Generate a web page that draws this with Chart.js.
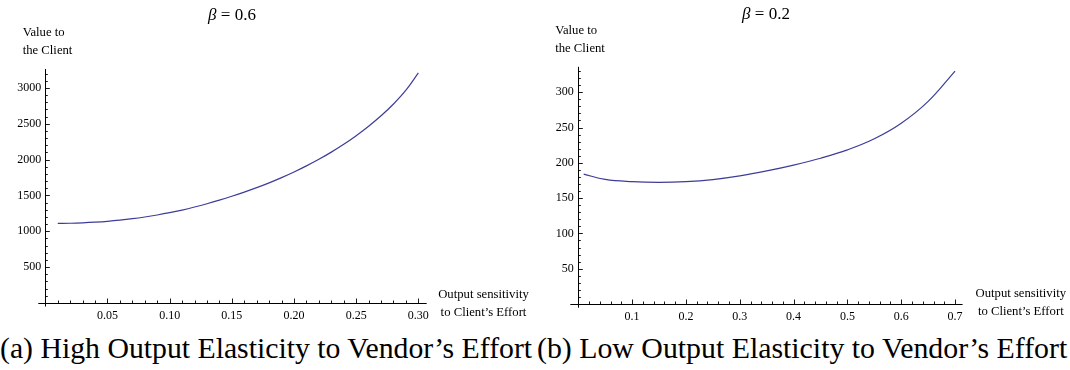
<!DOCTYPE html>
<html><head><meta charset="utf-8">
<script src="https://cdn.jsdelivr.net/npm/chart.js@4.4.1/dist/chart.umd.min.js"></script>
<style>
html,body{margin:0;padding:0;background:#fff;width:1070px;height:370px;overflow:hidden;position:relative;}
#c1{position:absolute;left:0;top:0;}
#c2{position:absolute;left:535px;top:0;}
.cap{position:absolute;top:333px;font-family:'Liberation Serif',serif;white-space:nowrap;color:#000;line-height:1;}
</style></head><body>
<canvas id="c1" width="535" height="330"></canvas>
<canvas id="c2" width="535" height="330"></canvas>
<div class="cap" id="capA">(a) High Output Elasticity to Vendor’s Effort</div>
<div class="cap" id="capB">(b) Low Output Elasticity to Vendor’s Effort</div>
<script>
// ---- data ----
const leftX = [0.01,0.02,0.03,0.04,0.05,0.06,0.07,0.08,0.09,0.10,0.11,0.12,0.13,0.14,0.15,0.16,0.17,0.18,0.19,0.20,0.21,0.22,0.23,0.24,0.25,0.26,0.27,0.28,0.29,0.30];
const leftY = [1110,1113,1119,1128,1140,1156,1176,1200,1228,1260,1297,1339,1385,1435,1489,1547,1609,1676,1749,1828,1913,2005,2105,2214,2334,2466,2612,2777,2970,3210];
const rightX = [0.01,0.05,0.10,0.15,0.20,0.25,0.30,0.35,0.40,0.45,0.50,0.55,0.60,0.65,0.70];
const rightY = [184,176.5,173.3,172.3,173.3,176.3,181.5,188.5,196.8,206.5,218.3,234,256,287,330];
const leftXTicks = [0.05,0.10,0.15,0.20,0.25,0.30];
const leftYTicks = [500,1000,1500,2000,2500,3000];
const rightXTicks = [0.1,0.2,0.3,0.4,0.5,0.6,0.7];
const rightYTicks = [50,100,150,200,250,300];
const titles = ['0.6','0.2'];
const yTitle = ['Value to','the Client'];
const xTitle = ['Output sensitivity','to Client\u2019s Effort'];

const LINE = '#3d3d99';
const TFONT = '"Liberation Serif", serif';

const mmaAxes = {
  id: 'mmaAxes',
  afterDraw(chart, args, o) {
    const ctx = chart.ctx, xs = chart.scales.x, ys = chart.scales.y;
    const x0 = xs.getPixelForValue(0), y0 = ys.getPixelForValue(0);
    ctx.save();
    ctx.strokeStyle = '#000';
    ctx.lineWidth = 1;
    ctx.beginPath();
    ctx.moveTo(x0 - o.xExt, Math.round(y0) + 0.5);
    ctx.lineTo(xs.right, Math.round(y0) + 0.5);
    ctx.moveTo(Math.round(x0) + 0.5, y0 + o.yExt);
    ctx.lineTo(Math.round(x0) + 0.5, ys.top);
    ctx.stroke();
    ctx.lineWidth = 0.9;
    ctx.beginPath();
    const nx = Math.floor(xs.max / o.xMinor + 1e-9);
    for (let i = 1; i <= nx; i++) {
      const v = i * o.xMinor;
      const r = v / o.xMajor;
      const major = Math.abs(r - Math.round(r)) < 1e-6;
      const px = Math.round(xs.getPixelForValue(v)) + 0.5;
      ctx.moveTo(px, y0);
      ctx.lineTo(px, y0 - (major ? 4.5 : 2.5));
    }
    const ny = Math.floor(ys.max / o.yMinor + 1e-9);
    for (let i = 1; i <= ny; i++) {
      const v = i * o.yMinor;
      const r = v / o.yMajor;
      const major = Math.abs(r - Math.round(r)) < 1e-6;
      const py = Math.round(ys.getPixelForValue(v)) + 0.5;
      ctx.moveTo(x0, py);
      ctx.lineTo(x0 + (major ? 4.5 : 2.5), py);
    }
    ctx.stroke();
    ctx.fillStyle = '#000';
    ctx.textBaseline = 'middle';
    ctx.textAlign = 'left';
    ctx.font = '12.7px ' + TFONT;
    ctx.fillText(yTitle[0], o.yTitleX, o.yTitleY);
    ctx.fillText(yTitle[1], o.yTitleX, o.yTitleY + 18);
    ctx.textAlign = 'center';
    ctx.fillText(xTitle[0], o.xTitleX, o.xTitleY);
    ctx.fillText(xTitle[1], o.xTitleX, o.xTitleY + 18);
    const f1 = 'italic 17px ' + TFONT, f2 = '17px ' + TFONT;
    const p1 = '\u03B2', p2 = ' = ' + o.title;
    ctx.font = f1; const w1 = ctx.measureText(p1).width;
    ctx.font = f2; const w2 = ctx.measureText(p2).width;
    const sx = o.titleX - (w1 + w2) / 2;
    ctx.textAlign = 'left';
    ctx.font = f1; ctx.fillText(p1, sx, o.titleY);
    ctx.font = f2; ctx.fillText(p2, sx + w1, o.titleY);
    ctx.restore();
  }
};

function makeChart(id, xs, ys, cfg) {
  const pts = xs.map((x, i) => ({x: x, y: ys[i]}));
  return new Chart(document.getElementById(id), {
    type: 'line',
    data: { datasets: [{ data: pts, borderColor: LINE, borderWidth: 1.2, pointRadius: 0,
      fill: false, tension: 0.4 }] },
    plugins: [mmaAxes],
    options: {
      responsive: false, animation: false, devicePixelRatio: 1,
      layout: { padding: { left: 0, top: cfg.top, right: cfg.right, bottom: 0 } },
      plugins: { legend: { display: false }, tooltip: { enabled: false }, title: { display: false },
        mmaAxes: cfg.axes },
      scales: {
        x: { type: 'linear', min: 0, max: cfg.xMax,
          afterBuildTicks: s => { s.ticks = cfg.xTicks.map(v => ({ value: v })); },
          afterFit: s => { s.height = cfg.xH; },
          grid: { display: false, drawTicks: false }, border: { display: false },
          ticks: { color: '#000', padding: cfg.xPad, maxRotation: 0, autoSkip: false,
            font: { family: TFONT, size: 12 }, callback: v => v.toFixed(cfg.xDec) } },
        y: { type: 'linear', min: 0, max: cfg.yMax,
          afterBuildTicks: s => { s.ticks = cfg.yTicks.map(v => ({ value: v })); },
          afterFit: s => { s.width = cfg.yW; },
          grid: { display: false, drawTicks: false }, border: { display: false },
          ticks: { color: '#000', padding: cfg.yPad, autoSkip: false,
            font: { family: TFONT, size: 12 }, callback: v => String(v) } }
      }
    }
  });
}

makeChart('c1', leftX, leftY, {
  top: 69, right: 108.3, xMax: 0.3067, yMax: 3265, xH: 27, yW: 45.3, xPad: 6, yPad: 4, xDec: 2,
  xTicks: leftXTicks, yTicks: leftYTicks,
  axes: { xMinor: 0.01, xMajor: 0.05, yMinor: 100, yMajor: 500, xExt: 7, yExt: 3.5,
    title: titles[0], titleX: 232, titleY: 16, yTitleX: 22.7, yTitleY: 33,
    xTitleX: 483.5, xTitleY: 295 }
});
makeChart('c2', rightX, rightY, {
  top: 66.8, right: 107.4, xMax: 0.714, yMax: 336, xH: 26, yW: 43.3, xPad: 6, yPad: 4.5, xDec: 1,
  xTicks: rightXTicks, yTicks: rightYTicks,
  axes: { xMinor: 0.02, xMajor: 0.1, yMinor: 10, yMajor: 50, xExt: 8, yExt: 3.7,
    title: titles[1], titleX: 231, titleY: 15, yTitleX: 20.2, yTitleY: 31,
    xTitleX: 485.8, xTitleY: 294 }
});

(function(){
  const c = document.createElement('canvas').getContext('2d');
  function fit(el, left, width) {
    c.font = '20px ' + TFONT;
    const w = c.measureText(el.textContent).width;
    el.style.fontSize = (20 * width / w) + 'px';
    el.style.left = left + 'px';
  }
  fit(document.getElementById('capA'), 0, 533);
  fit(document.getElementById('capB'), 537, 531);
})();
</script>
</body></html>
